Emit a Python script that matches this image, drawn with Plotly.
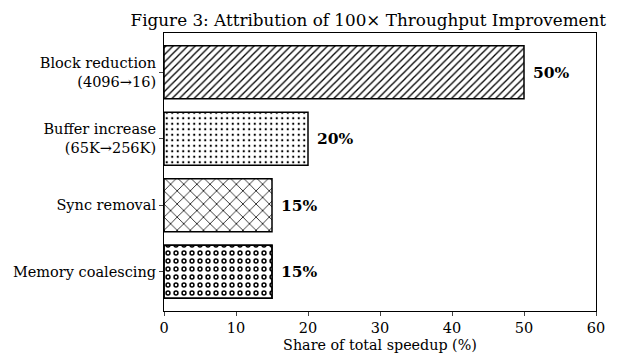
import plotly.graph_objects as go

categories = ["Block reduction<br>(4096→16)", "Buffer increase<br>(65K→256K)", "Sync removal", "Memory coalescing"]
shares = [50, 20, 15, 15]
labels = ["50%", "20%", "15%", "15%"]
x_ticks = [0, 10, 20, 30, 40, 50, 60]

FONT = "DejaVu Serif"
ypos = list(range(len(categories)))

fig = go.Figure()
shapes = ["/", ".", "x"]
sizes = [5.2, 5.5, 9.3]
solid = [0.25, 0.13, 0.16]
for i in range(3):
    fig.add_trace(go.Bar(
        y=[ypos[i]], x=[shares[i]], orientation="h", width=0.8,
        marker=dict(color="white", line=dict(color="black", width=1.5),
                    pattern=dict(shape=shapes[i], fgcolor="black", bgcolor="white", fgopacity=1,
                                 size=sizes[i], solidity=solid[i])),
        showlegend=False, hoverinfo="skip"))
# ring pattern for memory coalescing: black dots with white centers
fig.add_trace(go.Bar(
    y=[ypos[3]], x=[shares[3]], orientation="h", width=0.8,
    marker=dict(color="white", line=dict(color="black", width=1.5),
                pattern=dict(shape=".", fgcolor="black", bgcolor="white", fgopacity=1,
                             size=8, solidity=0.36)),
    showlegend=False, hoverinfo="skip"))
fig.add_trace(go.Bar(
    y=[ypos[3]], x=[shares[3]], orientation="h", width=0.8,
    marker=dict(color="rgba(0,0,0,0)", line=dict(color="black", width=1.5),
                pattern=dict(shape=".", fgcolor="white", bgcolor="rgba(0,0,0,0)", fgopacity=1,
                             size=8, solidity=0.07, fillmode="overlay")),
    showlegend=False, hoverinfo="skip"))

for i in range(len(categories)):
    fig.add_annotation(x=shares[i] + 1, y=ypos[i], text="<b>" + labels[i] + "</b>",
                       xanchor="left", yanchor="middle", showarrow=False,
                       font=dict(family=FONT, size=15.5, color="black"))

fig.update_layout(
    width=609, height=354,
    margin=dict(l=156, r=21, t=25, b=51, autoexpand=False),
    paper_bgcolor="white", plot_bgcolor="white",
    barmode="overlay",
    font=dict(family=FONT, size=14.5, color="black"),
    title=dict(text="Figure 3: Attribution of 100× Throughput Improvement",
               x=0.473, xref="paper", xanchor="center", y=1, yref="container", yanchor="top",
               pad=dict(t=6), font=dict(family=FONT, size=16.8, color="black")),
    xaxis=dict(range=[0, 60], tickvals=x_ticks, ticks="outside", ticklen=4, tickwidth=1,
               showline=True, linecolor="black", linewidth=1, mirror=True, showgrid=False,
               zeroline=False, automargin=False,
               title=dict(text="Share of total speedup (%)", standoff=4, font=dict(size=14.3)),
               tickfont=dict(size=14.5)),
    yaxis=dict(range=[3.59, -0.59], tickvals=ypos, ticktext=categories, ticks="outside",
               ticklen=4, tickwidth=1, showline=True, linecolor="black", linewidth=1,
               mirror=True, showgrid=False, zeroline=False, automargin=False,
               tickfont=dict(size=14.5)),
)

fig.write_html("out.html")
